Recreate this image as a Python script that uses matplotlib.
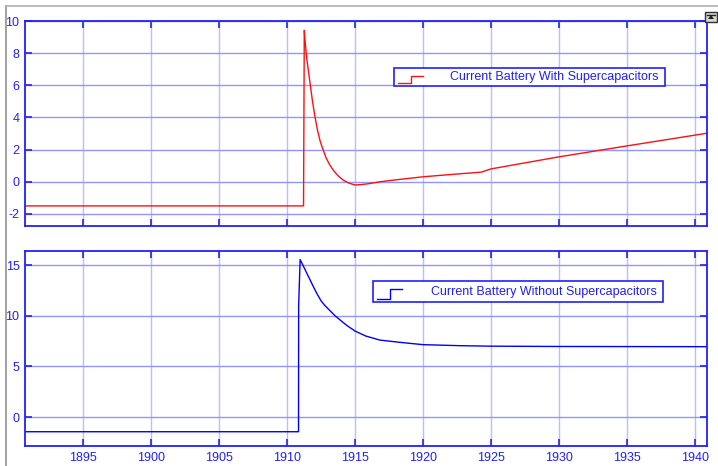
import matplotlib
matplotlib.use("Agg")
import matplotlib.pyplot as plt
from matplotlib.lines import Line2D
from matplotlib.patches import Rectangle, Polygon

plt.rcParams['font.family'] = ['Liberation Sans', 'DejaVu Sans']
plt.rcParams['axes.unicode_minus'] = False

# Battery current with supercapacitors (A) vs time (s)
t_with = [1890.73, 1911.22, 1911.275, 1911.35, 1911.45, 1911.58, 1911.72, 1911.88,
          1912.06, 1912.25, 1912.45, 1912.67, 1912.9, 1913.15, 1913.41, 1913.75,
          1914.14, 1914.55, 1915.0, 1915.5, 1916.0, 1916.84, 1918.3, 1920.0,
          1922.0, 1924.3, 1925.0, 1930.0, 1935.0, 1940.0, 1940.9]
i_with = [-1.5, -1.5, 9.42, 8.6, 7.7, 6.9, 6.0, 5.0,
          4.05, 3.2, 2.5, 1.96, 1.45, 1.05, 0.72, 0.38,
          0.10, -0.08, -0.2, -0.17, -0.12, 0.0, 0.15, 0.31,
          0.45, 0.6, 0.8, 1.55, 2.23, 2.9, 3.02]

# Battery current without supercapacitors (A) vs time (s)
t_without = [1890.73, 1910.85, 1910.86, 1910.97, 1911.3, 1911.6, 1911.94, 1912.2,
             1912.5, 1912.8, 1913.17, 1913.5, 1913.9, 1914.4, 1915.0, 1915.8,
             1916.84, 1918.3, 1920.0, 1922.7, 1925.0, 1930.0, 1940.9]
i_without = [-1.45, -1.45, 11.0, 15.55, 14.65, 13.82, 12.89, 12.2,
             11.5, 11.0, 10.5, 10.05, 9.6, 9.05, 8.5, 8.0,
             7.6, 7.38, 7.15, 7.05, 7.0, 6.97, 6.95]

xticks = [1895, 1900, 1905, 1910, 1915, 1920, 1925, 1930, 1935, 1940]
yticks_with = [-2, 0, 2, 4, 6, 8, 10]
yticks_without = [0, 5, 10, 15]

label_with = "Current Battery With Supercapacitors"
label_without = "Current Battery Without Supercapacitors"

BLUE = '#2020ff'
GRID_H = '#9494ff'
GRID_V = '#bcbcff'
W, H = 718, 466

fig = plt.figure(figsize=(W / 100, H / 100), dpi=100)
fig.patch.set_facecolor('white')


def px_axes(left, top, right, bottom):
    return fig.add_axes([left / W, 1 - bottom / H, (right - left) / W, (bottom - top) / H])


ax1 = px_axes(25, 21, 707, 226)
ax2 = px_axes(25, 251, 707, 446)

ax1.plot(t_with, i_with, color='#ff1010', lw=1.0)
ax2.plot(t_without, i_without, color='#0000ff', lw=1.0)

for ax, yt, ylim in ((ax1, yticks_with, (-2.75, 10)), (ax2, yticks_without, (-2.86, 16.4))):
    ax.set_xlim(1890.73, 1940.9)
    ax.set_ylim(*ylim)
    ax.set_xticks(xticks)
    ax.set_yticks(yt)
    ax.xaxis.grid(True, color=GRID_V, lw=1.0)
    ax.yaxis.grid(True, color=GRID_H, lw=1.0)
    ax.set_axisbelow(True)
    for s in ax.spines.values():
        s.set_color(BLUE)
        s.set_linewidth(1.3)
    ax.tick_params(direction='in', length=5, width=1.2, color=BLUE,
                   labelcolor=BLUE, labelsize=9, top=True, right=True, pad=4)

ax1.tick_params(labelbottom=False)


def fx(x):
    return x / W


def fy(y):
    return 1 - y / H


def step_legend(x0, y0, x1, y1, text, color):
    # legend box given in figure pixels
    fig.add_artist(Rectangle((fx(x0), fy(y1)), fx(x1 - x0), (y1 - y0) / H,
                             transform=fig.transFigure, facecolor='white',
                             edgecolor=BLUE, lw=1.2, zorder=5))
    ym = (y0 + y1) / 2
    xs = [x0 + 4, x0 + 17, x0 + 17, x0 + 29]
    ys = [y1 - 3, y1 - 3, y0 + 7.5, y0 + 7.5]
    fig.add_artist(Line2D([fx(v) for v in xs], [fy(v) for v in ys],
                          transform=fig.transFigure, color=color, lw=1.0, zorder=6))
    fig.text(fx(x1 - 6), fy(ym), text, ha='right', va='center', color=BLUE,
             fontsize=9, zorder=7)


step_legend(394, 68, 665, 86, label_with, '#ff1010')
step_legend(373, 281, 663, 302, label_without, '#0000ff')

# window frame lines
fig.add_artist(Line2D([fx(6), fx(6)], [0, fy(6)], transform=fig.transFigure,
                      color='#909090', lw=1.2))
fig.add_artist(Line2D([fx(6), 1], [fy(6), fy(6)], transform=fig.transFigure,
                      color='#b0b0b0', lw=1.2))

# small toolbar button at the top right
fig.add_artist(Rectangle((fx(705), fy(22)), 12 / W, 10 / H, transform=fig.transFigure,
                         facecolor='#d8d8d8', edgecolor='#303030', lw=1.0))
fig.add_artist(Polygon([[fx(708), fy(19)], [fx(714), fy(19)], [fx(711), fy(15)]],
                       closed=True, transform=fig.transFigure, facecolor='#202020',
                       edgecolor='none'))
fig.add_artist(Line2D([fx(707), fx(715)], [fy(14.5), fy(14.5)],
                      transform=fig.transFigure, color='#202020', lw=1.0))

fig.savefig('out.png', dpi=100)
